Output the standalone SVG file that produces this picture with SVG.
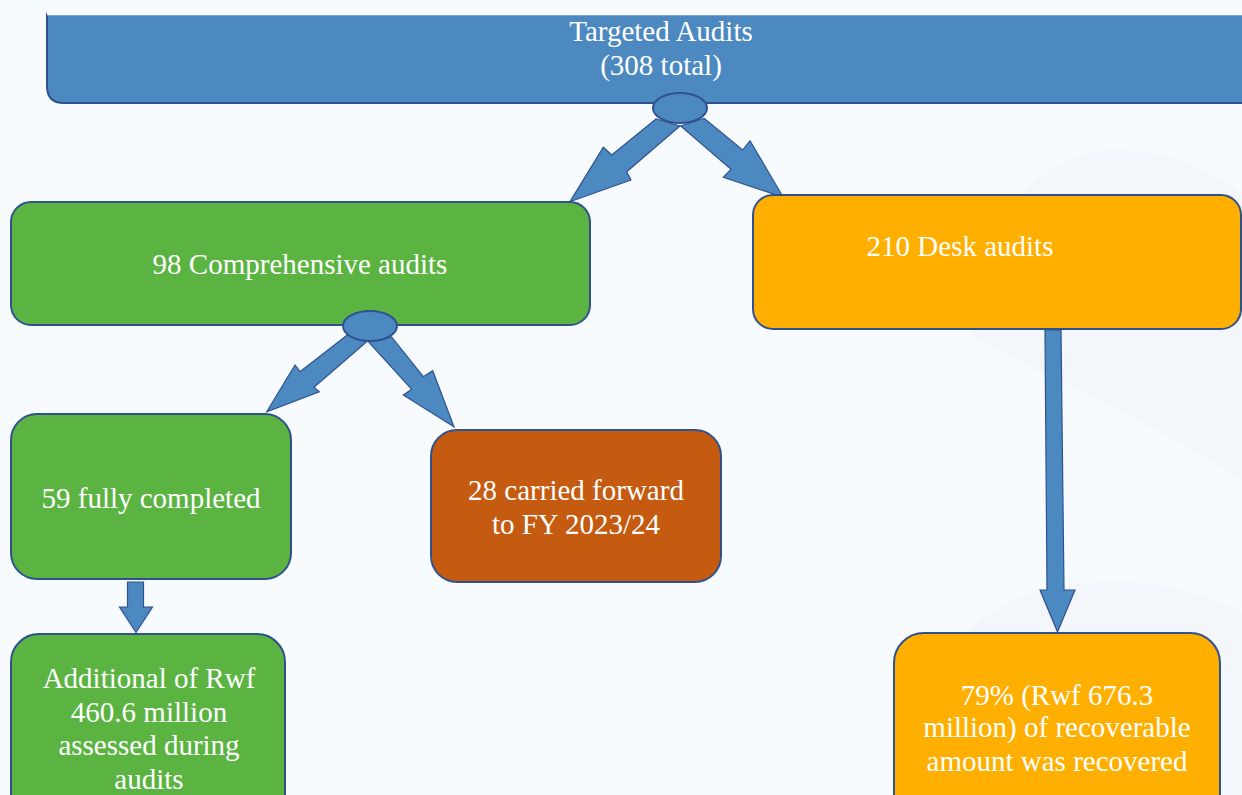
<svg xmlns="http://www.w3.org/2000/svg" width="1242" height="795" viewBox="0 0 1242 795">
  <style>
    .box { stroke: #2f528f; stroke-width: 2; }
    .blue { fill: #4d89c1; }
    .green { fill: #5bb441; }
    .orange { fill: #ffaf00; }
    .brown { fill: #c55a11; }
    .arrow { fill: #4d89c1; stroke: #2f528f; stroke-width: 1.2; stroke-linejoin: miter; }
    text { font-family: "Liberation Serif", serif; font-size: 29px; fill: #ffffff; text-anchor: middle; }
    .bgshape { fill: #f3f6fa; }
  </style>
  <rect x="0" y="0" width="1242" height="795" fill="#f8fbfd"/>
  <g id="background">
    <path class="bgshape" d="M972,335 C976,220 1040,150 1120,150 C1180,152 1225,180 1242,195 V480 C1180,440 1100,400 1040,372 Z"/>
    <path class="bgshape" d="M960,640 C1000,590 1080,575 1160,585 C1200,592 1230,605 1242,612 V795 H960 Z"/>
  </g>

  <g id="connectors">
    <path class="arrow" d="M656,119 L611.7,155 L603.3,147.3 L570,201.7 L631,180 L626.7,171.7 L680,126 Z"/>
    <path class="arrow" d="M704,118.3 L742.7,150 L750,140.7 L783.3,197.3 L723.3,177.3 L731,169.3 L680.7,126 Z"/>
    <path class="arrow" d="M347.3,335 L300,371.7 L295,365 L266.7,411.7 L319.3,391.7 L314,387.3 L366.7,341.7 Z"/>
    <path class="arrow" d="M391.7,337 L423.3,376.7 L432.7,370.7 L454,426.7 L403.3,395 L411.7,389.3 L368.3,341.7 Z"/>
    <path class="arrow" d="M127.5,582 H143.5 V607 H152.5 L136,632.5 L119.5,607 H127.5 Z"/>
    <path class="arrow" d="M1045,330 H1061 L1064,590 H1075 L1057.5,632 L1040,590 H1047 Z"/>
  </g>

  <g id="node-targeted">
    <path class="box blue" d="M47,14 V86 Q47,103 64,103 H1250 V14 Z"/>
    <path d="M47,14 H1250" stroke="#f8fbfd" stroke-width="2.5" fill="none"/>
    <text x="661" y="41" font-family="Liberation Serif, serif">Targeted Audits</text>
    <text x="661" y="75" font-family="Liberation Serif, serif">(308 total)</text>
  </g>
  <g id="junction-top">
    <ellipse class="box blue" cx="680" cy="108" rx="27" ry="15"/>
  </g>

  <g id="node-comprehensive">
    <rect class="box green" x="11" y="202" width="579" height="123" rx="20" ry="20"/>
    <text x="300" y="274" font-family="Liberation Serif, serif">98 Comprehensive audits</text>
  </g>
  <g id="junction-comprehensive">
    <ellipse class="box blue" cx="370" cy="326" rx="27" ry="15"/>
  </g>

  <g id="node-desk">
    <rect class="box orange" x="753" y="195" width="488" height="134" rx="20" ry="20"/>
    <text x="960" y="256" font-family="Liberation Serif, serif">210 Desk audits</text>
  </g>

  <g id="node-completed">
    <rect class="box green" x="11" y="414" width="280" height="165" rx="26" ry="26"/>
    <text x="151" y="508" font-family="Liberation Serif, serif">59 fully completed</text>
  </g>

  <g id="node-carried">
    <rect class="box brown" x="431" y="430" width="290" height="152" rx="26" ry="26"/>
    <text x="576" y="500" font-family="Liberation Serif, serif">28 carried forward</text>
    <text x="576" y="534" font-family="Liberation Serif, serif">to FY 2023/24</text>
  </g>

  <g id="node-additional">
    <rect class="box green" x="11" y="634" width="274" height="200" rx="28" ry="28"/>
    <text x="149" y="688" font-family="Liberation Serif, serif">Additional of Rwf</text>
    <text x="149" y="722" font-family="Liberation Serif, serif">460.6 million</text>
    <text x="149" y="755" font-family="Liberation Serif, serif">assessed during</text>
    <text x="149" y="789" font-family="Liberation Serif, serif">audits</text>
  </g>

  <g id="node-recovered">
    <rect class="box orange" x="894" y="633" width="326" height="200" rx="30" ry="30"/>
    <text x="1057" y="705" font-family="Liberation Serif, serif">79% (Rwf 676.3</text>
    <text x="1057" y="737" font-family="Liberation Serif, serif">million) of recoverable</text>
    <text x="1057" y="771" font-family="Liberation Serif, serif">amount was recovered</text>
  </g>
</svg>
